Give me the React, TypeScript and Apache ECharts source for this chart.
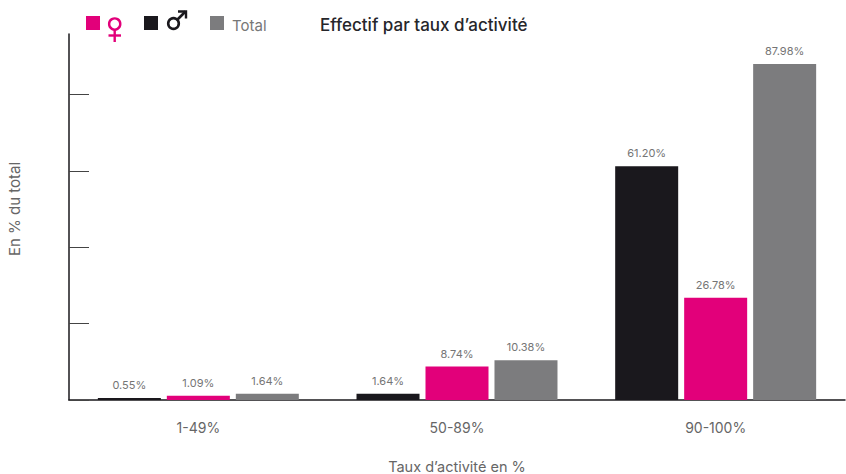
import React, { useEffect, useRef } from "react";
import * as echarts from "echarts";

const categories = ["1-49%", "50-89%", "90-100%"];
const maleValues = [0.55, 1.64, 61.2];
const femaleValues = [1.09, 8.74, 26.78];
const totalValues = [1.64, 10.38, 87.98];
const yTicks = [0, 20, 40, 60, 80];
const FONT = "Inter, Roboto, sans-serif";
const INK = "#1a181d";
const PINK = "#e2007a";
const GREY = "#7c7c7e";
const TEXT = "#666666";

function labelled(name: string, data: number[], color: string) {
  return {
    name,
    type: "bar",
    data,
    barWidth: 63,
    barGap: "9.5%",
    itemStyle: { color },
    label: {
      show: true,
      position: "top",
      distance: 7.5,
      formatter: (p: any) => p.value.toFixed(2) + "%",
      color: "#757575",
      fontSize: 11,
      fontFamily: FONT,
    },
  };
}

export default function App() {
  const ref = useRef<HTMLDivElement>(null);
  useEffect(() => {
    const chart = echarts.init(ref.current!, null, { renderer: "svg" });
    chart.setOption({
      animation: false,
      grid: { left: 69, right: 1, top: 34, bottom: 74, containLabel: false, outerBoundsMode: "none" },
      title: {
        text: "Effectif par taux d’activité",
        left: 315,
        top: 11,
        textStyle: { fontSize: 17, fontWeight: 500, color: "#26262a", fontFamily: FONT },
      },
      xAxis: {
        type: "category",
        data: categories,
        name: "Taux d’activité en %",
        nameLocation: "middle",
        nameGap: 59,
        nameTextStyle: { fontSize: 14.5, color: TEXT, fontFamily: FONT },
        axisLine: { lineStyle: { color: INK, width: 1.5 } },
        axisTick: { length: 10, inside: true, lineStyle: { color: "#444444" } },
        axisLabel: { fontSize: 14, color: TEXT, margin: 20, fontFamily: FONT },
      },
      yAxis: {
        type: "value",
        min: 0,
        max: 95.8,
        interval: 20,
        name: "En % du total",
        nameLocation: "middle",
        nameGap: 47,
        nameTextStyle: { fontSize: 15, color: TEXT, fontFamily: FONT, padding: [0, 0, 0, 16] },
        axisLine: { show: true, lineStyle: { color: INK, width: 1.5 } },
        axisTick: { show: true, inside: true, length: 20, customValues: yTicks, lineStyle: { color: "#444444" } },
        axisLabel: { show: false },
        splitLine: { show: false },
      },
      series: [
        labelled("Homme", maleValues, INK),
        labelled("Femme", femaleValues, PINK),
        labelled("Total", totalValues, GREY),
      ],
      graphic: [
        { type: "rect", shape: { x: 86, y: 16, width: 14, height: 14 }, style: { fill: PINK } },
        { type: "circle", shape: { cx: 114.7, cy: 24, r: 5.6 }, style: { fill: "none", stroke: PINK, lineWidth: 2.4 } },
        { type: "line", shape: { x1: 114.7, y1: 30, x2: 114.7, y2: 42 }, style: { stroke: PINK, lineWidth: 2.4 } },
        { type: "line", shape: { x1: 108.5, y1: 35.5, x2: 121, y2: 35.5 }, style: { stroke: PINK, lineWidth: 2.4 } },
        { type: "rect", shape: { x: 144, y: 16, width: 14, height: 14 }, style: { fill: INK } },
        { type: "circle", shape: { cx: 173.5, cy: 23.5, r: 5.3 }, style: { fill: "none", stroke: INK, lineWidth: 2.6 } },
        { type: "line", shape: { x1: 177, y1: 20, x2: 185.5, y2: 11.5 }, style: { stroke: INK, lineWidth: 2.6 } },
        { type: "polyline", shape: { points: [[178, 11.5], [186, 11.5], [186, 18.5]] }, style: { fill: "none", stroke: INK, lineWidth: 2.4 } },
        { type: "rect", shape: { x: 210, y: 16, width: 14, height: 14 }, style: { fill: GREY } },
        { type: "text", x: 232, y: 18, style: { text: "Total", fontSize: 15, fill: "#777777", fontFamily: FONT } },
      ],
    });
    return () => chart.dispose();
  }, []);
  return <div ref={ref} style={{ position: "absolute", left: 0, top: 0, width: 846, height: 474 }} />;
}
